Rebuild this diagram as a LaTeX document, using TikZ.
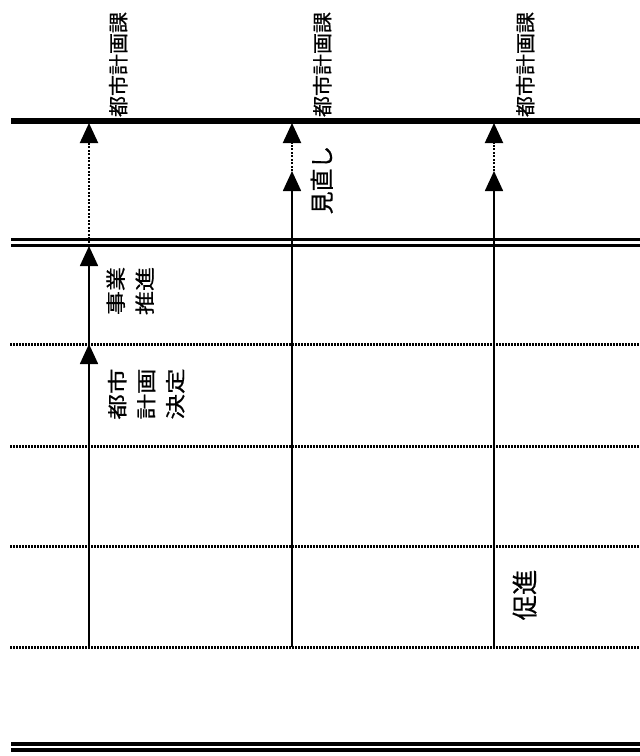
\documentclass[tikz,border=0pt]{standalone}
\usepackage{fontspec}
\setmainfont{Noto Sans CJK JP}[FakeBold=0.6,AutoFakeBold=0.6]
\usepackage{graphicx}
\usetikzlibrary{arrows.meta}
\newcommand{\vlabel}[4]{\fontsize{#1}{#2}\selectfont\bfseries\rotatebox{90}{\scalebox{#3}[1]{\begin{tabular}{@{}c@{}}#4\end{tabular}}}}
\begin{document}
\begin{tikzpicture}[x=1pt,y=-1pt,
  thickrule/.style={line width=5.5pt},
  dblrule/.style={line width=3pt},
  dotrule/.style={line width=3pt, dash pattern=on 2pt off 1pt},
  solidarrow/.style={line width=1.7pt, -{Triangle[width=18pt,length=20pt]}},
  dotarrow/.style={line width=2pt, dash pattern=on 2pt off 1.5pt, -{Triangle[width=18pt,length=20pt]}},
  lbl/.style={inner sep=0pt}]
\fill[white] (0,0) rectangle (640,756);
\useasboundingbox (0,0) rectangle (640,756);
% horizontal rules
\draw[thickrule] (11,121) -- (640,121);
\draw[dblrule] (11,239.5) -- (640,239.5);
\draw[dblrule] (11,245.5) -- (640,245.5);
\foreach \yy in {344,446,546,647} \draw[dotrule] (10,\yy) -- (640,\yy);
\draw[dblrule, line width=3.5pt] (11,744) -- (640,744);
\draw[dblrule, line width=3.5pt] (11,750) -- (640,750);
% coordinates
\coordinate (a0) at (89,647);
\coordinate (a1) at (89,344);
\coordinate (a2) at (89,246);
\coordinate (a3) at (89,123);
\coordinate (b0) at (292,647);
\coordinate (b1) at (292,171);
\coordinate (b2) at (292,123);
\coordinate (c0) at (494,647);
\coordinate (c1) at (494,171);
\coordinate (c2) at (494,123);
% arrows
\draw[solidarrow] (a0) -- (a1);
\draw[solidarrow] (a1) -- (a2);
\draw[dotarrow] (a2) -- (a3);
\draw[solidarrow] (b0) -- (b1);
\draw[dotarrow] (b1) -- (b2);
\draw[solidarrow] (c0) -- (c1);
\draw[dotarrow] (c1) -- (c2);
% labels
\node[lbl] (t1) at (121,64.5) {\vlabel{20}{24}{1.05}{都市計画課}};
\node[lbl] (t2) at (325,64.5) {\vlabel{20}{24}{1.05}{都市計画課}};
\node[lbl] (t3) at (528,64.5) {\vlabel{20}{24}{1.05}{都市計画課}};
\node[lbl] (m) at (325,180) {\vlabel{24}{28}{0.95}{見直し}};
\node[lbl] (j) at (132,291) {\vlabel{20}{29}{1.2}{事業\\推進}};
\node[lbl] (k) at (148,394) {\vlabel{20}{29}{1.28}{都市\\計画\\決定}};
\node[lbl] (s) at (528,595) {\vlabel{26}{30}{0.97}{促進}};
\end{tikzpicture}
\end{document}
